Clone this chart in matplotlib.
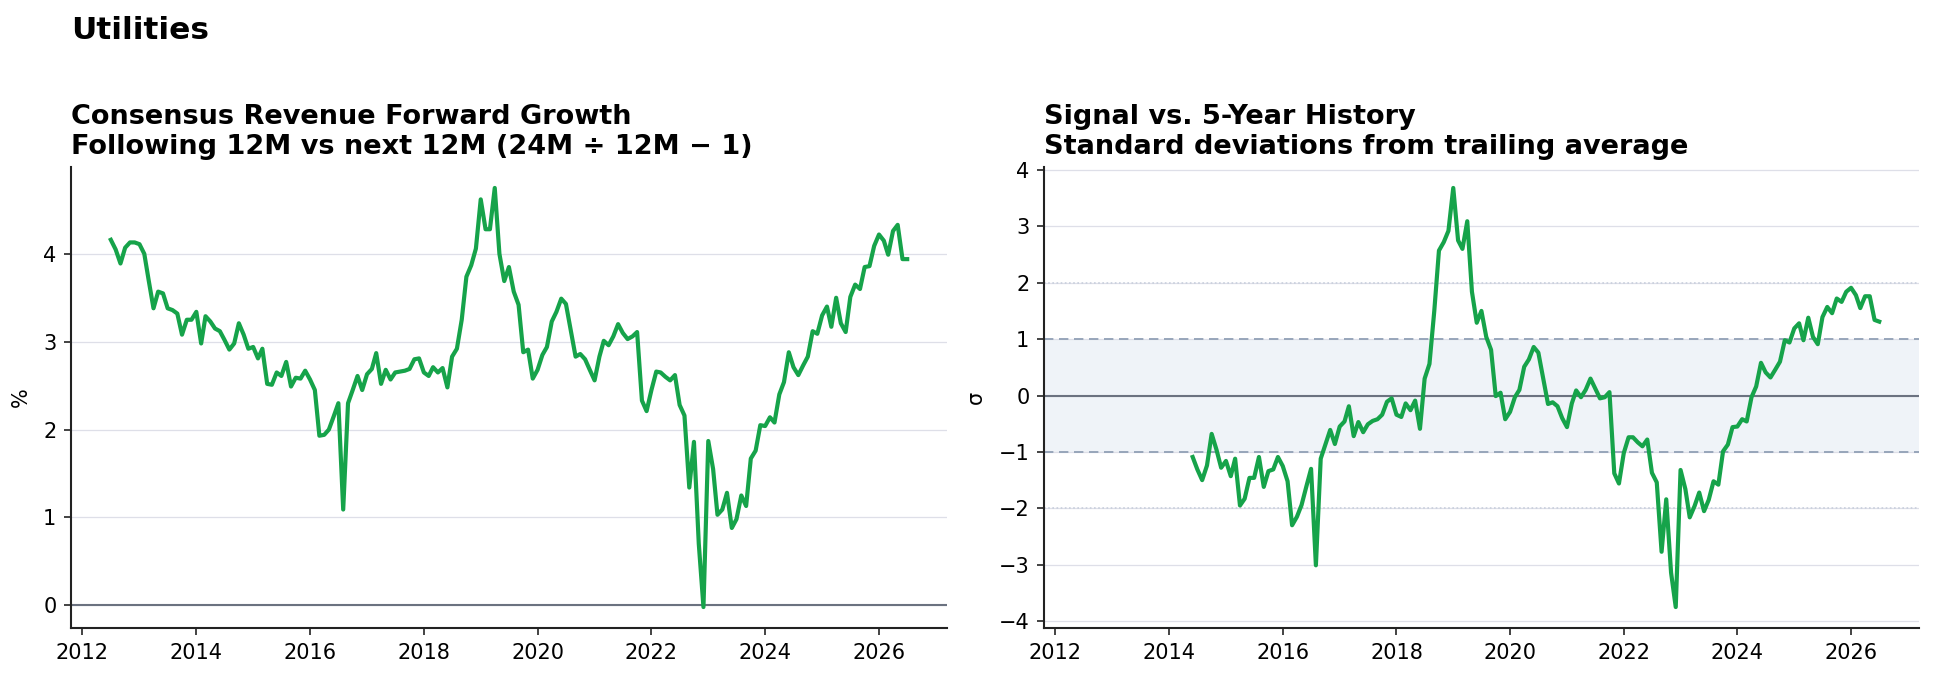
import matplotlib
matplotlib.use("Agg")
import matplotlib.pyplot as plt
import matplotlib.dates as mdates
import numpy as np
import pandas as pd

# monthly, Jul 2012 .. Jul 2026
dates = pd.date_range("2012-07-01", "2026-07-01", freq="MS")

# consensus revenue forward growth, %
growth = [
    4.16, 4.05, 3.89, 4.07, 4.13, 4.13, 4.11, 4.00, 3.70, 3.38, 3.57, 3.55,
    3.38, 3.36, 3.32, 3.08, 3.25, 3.25, 3.34, 2.98, 3.29, 3.23, 3.15, 3.12,
    3.02, 2.91, 2.98, 3.21, 3.08, 2.92, 2.94, 2.81, 2.92, 2.52, 2.51, 2.65,
    2.61, 2.77, 2.49, 2.59, 2.58, 2.67, 2.57, 2.45, 1.93, 1.94, 2.00, 2.15,
    2.30, 1.09, 2.30, 2.45, 2.61, 2.45, 2.63, 2.69, 2.87, 2.52, 2.68, 2.57,
    2.65, 2.66, 2.67, 2.69, 2.80, 2.81, 2.65, 2.61, 2.71, 2.65, 2.70, 2.48,
    2.83, 2.92, 3.25, 3.74, 3.87, 4.06, 4.62, 4.28, 4.28, 4.75, 4.00, 3.69,
    3.85, 3.57, 3.42, 2.88, 2.91, 2.58, 2.68, 2.85, 2.94, 3.23, 3.34, 3.49,
    3.43, 3.13, 2.83, 2.86, 2.80, 2.68, 2.56, 2.83, 3.01, 2.96, 3.06, 3.20,
    3.10, 3.03, 3.06, 3.11, 2.33, 2.21, 2.45, 2.66, 2.65, 2.60, 2.56, 2.62,
    2.28, 2.16, 1.34, 1.86, 0.70, -0.02, 1.87, 1.55, 1.03, 1.09, 1.28, 0.88,
    0.98, 1.25, 1.13, 1.67, 1.76, 2.05, 2.04, 2.14, 2.08, 2.40, 2.54, 2.88,
    2.71, 2.62, 2.73, 2.83, 3.12, 3.09, 3.30, 3.40, 3.17, 3.50, 3.21, 3.11,
    3.51, 3.65, 3.60, 3.85, 3.86, 4.09, 4.22, 4.15, 3.99, 4.26, 4.33, 3.94,
    3.94,
]

# z-score vs trailing history, starts Jun 2014
z_start = "2014-06-01"
zscore = [
    -1.09, -1.31, -1.50, -1.24, -0.68, -0.96, -1.28,
    -1.16, -1.43, -1.12, -1.95, -1.83, -1.46, -1.46, -1.09, -1.62, -1.34, -1.31, -1.09,
    -1.25, -1.52, -2.30, -2.15, -1.94, -1.61, -1.30, -3.01, -1.12, -0.87, -0.61, -0.86,
    -0.55, -0.46, -0.19, -0.72, -0.47, -0.65, -0.51, -0.45, -0.42, -0.34, -0.11, -0.05,
    -0.34, -0.38, -0.14, -0.26, -0.09, -0.59, 0.30, 0.56, 1.50, 2.57, 2.72, 2.92,
    3.68, 2.75, 2.60, 3.09, 1.84, 1.29, 1.50, 1.04, 0.81, -0.01, 0.05, -0.42,
    -0.29, -0.03, 0.10, 0.51, 0.64, 0.86, 0.76, 0.31, -0.15, -0.12, -0.19, -0.40,
    -0.56, -0.14, 0.09, -0.03, 0.10, 0.30, 0.13, -0.05, -0.03, 0.06, -1.38, -1.56,
    -1.02, -0.74, -0.74, -0.83, -0.90, -0.78, -1.37, -1.54, -2.77, -1.84, -3.14, -3.75,
    -1.32, -1.66, -2.16, -1.96, -1.72, -2.05, -1.85, -1.52, -1.58, -0.99, -0.87, -0.56,
    -0.55, -0.42, -0.46, -0.03, 0.16, 0.58, 0.41, 0.32, 0.46, 0.60, 0.98, 0.94,
    1.19, 1.28, 0.98, 1.38, 1.04, 0.91, 1.39, 1.57, 1.46, 1.72, 1.66, 1.84,
    1.91, 1.78, 1.55, 1.76, 1.76, 1.34, 1.31,
]
z_dates = pd.date_range(z_start, periods=len(zscore), freq="MS")

GREEN = "#16a34a"
GRID = "#dedfe8"
ZERO = "#6b7280"
BAND = "#eff3f8"
REF = "#94a3b8"

W, H, DPI = 1933, 679, 150
fig = plt.figure(figsize=(W / DPI, H / DPI), dpi=DPI)

ax1 = fig.add_axes([71 / W, 1 - 628 / H, 876 / W, 461 / H])
ax2 = fig.add_axes([1044 / W, 1 - 628 / H, 875 / W, 461 / H])


def style(ax):
    for side in ("top", "right"):
        ax.spines[side].set_visible(False)
    for side in ("left", "bottom"):
        ax.spines[side].set_color("#222222")
        ax.spines[side].set_linewidth(1.0)
    ax.tick_params(labelsize=10, color="#222222")
    ax.yaxis.grid(True, color=GRID, lw=0.6)
    ax.set_axisbelow(True)
    ax.xaxis.set_major_locator(mdates.YearLocator(2))
    ax.xaxis.set_major_formatter(mdates.DateFormatter("%Y"))


# left: growth
style(ax1)
ax1.axhline(0, color=ZERO, lw=1.0, zorder=1)
ax1.plot(dates, growth, color=GREEN, lw=2, zorder=3)
ax1.set_ylabel("%", fontsize=10, labelpad=6)
ax1.set_yticks([0, 1, 2, 3, 4])
ax1.set_title(
    "Consensus Revenue Forward Growth\nFollowing 12M vs next 12M (24M \u00f7 12M \u2212 1)",
    loc="left", fontsize=13, fontweight="bold", pad=6,
)

# right: z-score
style(ax2)
ax2.axhspan(-1, 1, color=BAND, lw=0, zorder=0)
ax2.axhline(0, color=ZERO, lw=1.0, zorder=1)
for lvl in (-1, 1):
    ax2.axhline(lvl, color=REF, lw=0.9, ls=(0, (5, 3)), zorder=1)
for lvl in (-2, 2):
    ax2.axhline(lvl, color="#c8cfdc", lw=0.8, ls=(0, (1, 1.5)), zorder=1)
ax2.plot(z_dates, zscore, color=GREEN, lw=2, zorder=3)
ax2.set_xlim(ax1.get_xlim())
ax2.set_yticks(np.arange(-4, 5))
ax2.set_ylabel("\u03c3", fontsize=10, labelpad=6)
ax2.set_title(
    "Signal vs. 5-Year History\nStandard deviations from trailing average",
    loc="left", fontsize=13, fontweight="bold", pad=6,
)

fig.text(71 / W, 1 - 16 / H, "Utilities", ha="left", va="top",
         fontsize=15, fontweight="bold")

fig.savefig("out.png", dpi=DPI)
